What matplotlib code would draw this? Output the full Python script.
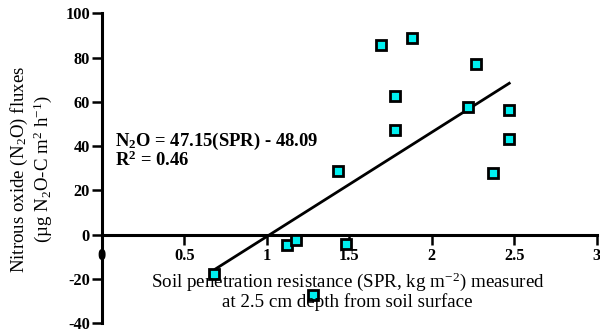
import matplotlib
matplotlib.use("Agg")
import matplotlib.pyplot as plt
import numpy as np

plt.rcParams['font.family'] = ['Liberation Serif', 'DejaVu Serif']
plt.rcParams['mathtext.fontset'] = 'custom'
plt.rcParams['mathtext.rm'] = 'Liberation Serif'
plt.rcParams['mathtext.it'] = 'Liberation Serif:italic'
plt.rcParams['mathtext.bf'] = 'Liberation Serif:bold'
plt.rcParams['axes.unicode_minus'] = False

# Data
spr = [0.68, 1.12, 1.18, 1.28, 1.48, 1.43, 1.69, 1.78, 1.78, 1.88, 2.22, 2.27, 2.37, 2.47, 2.47]
n2o = [-17.8, -4.9, -2.3, -27.3, -4.5, 28.5, 85.6, 62.4, 47.3, 88.9, 57.5, 77.3, 28.0, 56.4, 43.2]
slope = 47.15
intercept = -48.09
fit_range = [0.69, 2.47]
xticks = [0, 0.5, 1, 1.5, 2, 2.5, 3]
xtick_labels = ['0', '0.5', '1', '1.5', '2', '2.5', '3']
yticks = [-40, -20, 0, 20, 40, 60, 80, 100]

W, H = 600, 333
fig = plt.figure(figsize=(6, 3.33), dpi=100)
left, right = 101.7 / W, 596.7 / W
bottom, top = 1 - 323 / H, 1 - 13.3 / H
ax = fig.add_axes([left, bottom, right - left, top - bottom])
ax.set_xlim(0, 3)
ax.set_ylim(-40, 100)

for s in ['top', 'right']:
    ax.spines[s].set_visible(False)
ax.spines['bottom'].set_position(('data', 0))
ax.spines['left'].set_linewidth(2.2)
ax.spines['bottom'].set_linewidth(2.2)

fx = np.array(fit_range)
ax.plot(fx, slope * fx + intercept, color='black', lw=2.0, zorder=2)
ax.plot(spr, n2o, linestyle='none', marker='s', markersize=7.5,
        markerfacecolor='#00F0F0', markeredgecolor='black', markeredgewidth=2.0,
        zorder=3, clip_on=False)

ax.set_xticks(xticks)
ax.set_xticklabels(xtick_labels)
ax.set_yticks(yticks)
ax.tick_params(axis='x', direction='out', length=7, width=1.8, pad=3,
               labelsize=11.8)
ax.tick_params(axis='y', direction='out', length=7, width=1.8, pad=1.5,
               labelsize=11.8)
for lbl in ax.get_xticklabels() + ax.get_yticklabels():
    lbl.set_fontweight('bold')

# x-axis label
fig.text(347.5 / W, 1 - 290.5 / H,
         'Soil penetration resistance (SPR, kg m$^{-2}$) measured\nat 2.5 cm depth from soil surface',
         ha='center', va='center', fontsize=13.7, linespacing=1.0)

# y-axis label
fig.text(31.5 / W, 1 - 169 / H,
         'Nitrous oxide (N$_2$O) fluxes\n(µg N$_2$O-C m$^2$ h$^{-1}$)',
         ha='center', va='center', rotation=90, fontsize=13.6, linespacing=1.1)

# equation
fig.text(115 / W, 1 - 141 / H, 'N$_\\mathbf{2}$O = 47.15(SPR) - 48.09',
         ha='left', va='center', fontsize=13.4, fontweight='bold')
fig.text(115 / W, 1 - 160 / H, 'R$^\\mathbf{2}$ = 0.46',
         ha='left', va='center', fontsize=13.4, fontweight='bold')

fig.savefig('out.png', dpi=100)
